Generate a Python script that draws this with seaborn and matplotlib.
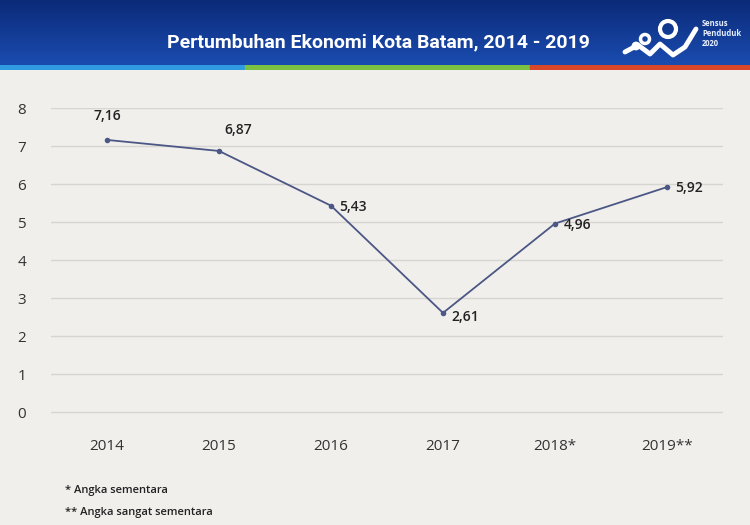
import matplotlib
matplotlib.use("Agg")
import matplotlib.pyplot as plt
import numpy as np
import pandas as pd
import seaborn as sns
from matplotlib.patches import Rectangle, Circle
from matplotlib.colors import LinearSegmentedColormap

years = ["2014", "2015", "2016", "2017", "2018*", "2019**"]
growth = [7.16, 6.87, 5.43, 2.61, 4.96, 5.92]
labels = ["7,16", "6,87", "5,43", "2,61", "4,96", "5,92"]
y_ticks = [0, 1, 2, 3, 4, 5, 6, 7, 8]
title = "Pertumbuhan Ekonomi Kota Batam, 2014 - 2019"
notes = ["* Angka sementara", "** Angka sangat sementara"]
logo_lines = ["Sensus", "Penduduk", "2020"]

sns.set_theme(style="white")
plt.rcParams["font.family"] = ["Open Sans", "DejaVu Sans"]

bg = "#f1efec"
fig = plt.figure(figsize=(7.5, 5.25), dpi=100, facecolor=bg)

# header band with gradient
hax = fig.add_axes([0, 1 - 65 / 525, 1, 65 / 525])
grad = np.linspace(0, 1, 100).reshape(-1, 1)
cmap = LinearSegmentedColormap.from_list("hdr", ["#0b2a78", "#1a4cb0"])
hax.imshow(grad, aspect="auto", cmap=cmap, extent=[0, 750, 0, 65], origin="upper")
hax.set_xlim(0, 750)
hax.set_ylim(0, 65)
hax.axis("off")
hax.text(378, 23, title, color="white", fontsize=14, fontweight="bold",
         family=["Roboto", "DejaVu Sans"], ha="center", va="center")
# logo approximation
hax.add_patch(Circle((668, 36), 8, fill=False, ec="white", lw=3))
hax.add_patch(Circle((645, 26), 4.5, fill=False, ec="white", lw=2.5))
hax.add_patch(Circle((636, 19), 3, fill=False, ec="white", lw=2))
hax.plot([625, 638, 650, 660, 673, 685, 696], [13, 20, 11, 21, 10, 18, 36],
         color="white", lw=3.5, solid_capstyle="round")
for k, t in enumerate(logo_lines):
    hax.text(702, 42 - k * 10, t, color="#e8f0ff", fontsize=5.5,
             fontweight="bold", va="center")

# colored stripe
sax = fig.add_axes([0, 1 - 70 / 525, 1, 5 / 525])
sax.set_xlim(0, 750)
sax.set_ylim(0, 1)
sax.axis("off")
sax.add_patch(Rectangle((0, 0), 245, 1, color="#2f9be0"))
sax.add_patch(Rectangle((245, 0), 285, 1, color="#7cc242"))
sax.add_patch(Rectangle((530, 0), 220, 1, color="#d9472b"))

# main chart
ax = fig.add_axes([51 / 750, 1 - 414 / 525, (723 - 51) / 750, (414 - 108) / 525])
ax.set_facecolor(bg)
df = pd.DataFrame({"year": years, "growth": growth})
sns.lineplot(data=df, x="year", y="growth", ax=ax, color="#4b5784", lw=1.3,
             marker="o", markersize=4, markeredgewidth=0, sort=False)
ax.set_xlim(-0.5, 5.5)
ax.set_ylim(-0.05, 8)
ax.set_yticks(y_ticks)
ax.yaxis.grid(True, color="#d6d5d2", lw=1)
ax.xaxis.grid(False)
for s in ax.spines.values():
    s.set_visible(False)
ax.set_xlabel("")
ax.set_ylabel("")
ax.tick_params(axis="y", labelsize=11, labelcolor="#333333", pad=18, length=0)
ax.tick_params(axis="x", labelsize=11, labelcolor="#333333", pad=18, length=0)

offsets = [(0, 12, "center", "bottom"), (14, 10, "center", "bottom"),
           (6, -1, "left", "center"), (6, -3, "left", "center"),
           (6, -1, "left", "center"), (6, -1, "left", "center")]
for i, (v, lab) in enumerate(zip(growth, labels)):
    dx, dy, ha, va = offsets[i]
    ax.annotate(lab, (i, v), xytext=(dx, dy), textcoords="offset points",
                ha=ha, va=va, fontsize=10, fontweight="semibold", color="#222222")

fig.text(65 / 750, 1 - 490 / 525, notes[0], fontsize=8, color="#222222",
         va="center", fontweight="semibold")
fig.text(65 / 750, 1 - 512 / 525, notes[1], fontsize=8, color="#222222",
         va="center", fontweight="semibold")

fig.savefig("out.png", dpi=100, facecolor=bg)
